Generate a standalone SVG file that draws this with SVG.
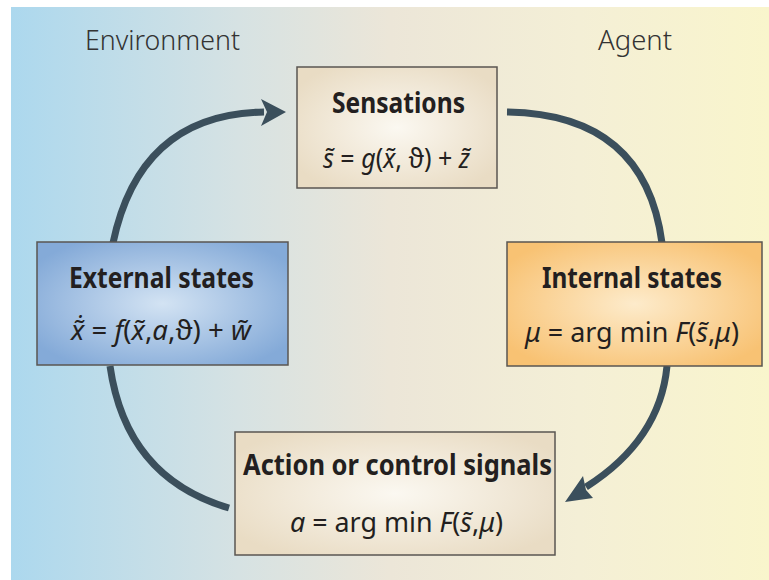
<svg xmlns="http://www.w3.org/2000/svg" width="769" height="580" viewBox="0 0 769 580">
<defs>
<linearGradient id="bg" x1="11" y1="0" x2="769" y2="0" gradientUnits="userSpaceOnUse">
<stop offset="0" stop-color="#acd8ee"/>
<stop offset="0.3" stop-color="#d6e2e3"/>
<stop offset="0.5" stop-color="#ece6d8"/>
<stop offset="0.75" stop-color="#f4efd6"/>
<stop offset="1" stop-color="#f9f5cc"/>
</linearGradient>
<radialGradient id="gBeige" cx="0.5" cy="0.5" r="0.6">
<stop offset="0" stop-color="#fbf8f1"/>
<stop offset="1" stop-color="#e9dcc4"/>
</radialGradient>
<radialGradient id="gBlue" cx="0.5" cy="0.5" r="0.6">
<stop offset="0" stop-color="#d3e3f3"/>
<stop offset="1" stop-color="#84aad8"/>
</radialGradient>
<radialGradient id="gOrange" cx="0.5" cy="0.5" r="0.6">
<stop offset="0" stop-color="#fdebcb"/>
<stop offset="1" stop-color="#f8c273"/>
</radialGradient>
</defs>
<style>
.box{stroke:#5a5652;stroke-width:1.5}
.lbl{font-family:"Noto Sans","Open Sans",sans-serif;fill:#333;font-size:27px;font-weight:300}
.ttl{font-family:"Noto Sans","Open Sans",sans-serif;fill:#231f20;font-size:28px;font-weight:bold}
.eq{font-family:"Noto Sans","Open Sans",sans-serif;fill:#231f20;font-size:27px}
.it{font-style:italic}
.arc{fill:none;stroke:#3b4f5c;stroke-width:7}
.head{fill:#3b4f5c}
</style>
<rect x="11" y="7" width="758" height="573" fill="url(#bg)"/>
<text class="lbl" x="85" y="50" textLength="155" lengthAdjust="spacingAndGlyphs">Environment</text>
<text class="lbl" x="598" y="50" textLength="74" lengthAdjust="spacingAndGlyphs">Agent</text>
<g id="connectors">
<path class="arc" d="M113,243 Q140,114 264,112"/>
<polygon class="head" points="261,99 286,112 261,126 267,112"/>
<path class="arc" d="M507,112 Q645,114 662,243"/>
<path class="arc" d="M667,366 Q660,440 586,487"/>
<polygon class="head" points="583,476 565,502 593,498 586,490"/>
<path class="arc" d="M110,366 Q126,478 229,508"/>
</g>
<g id="sensations">
<rect class="box" x="297" y="67" width="200" height="121" fill="url(#gBeige)"/>
<text class="ttl" x="332" y="113" textLength="133" lengthAdjust="spacingAndGlyphs">Sensations</text>
<text class="eq" x="323" y="168" textLength="147" lengthAdjust="spacingAndGlyphs"><tspan class="it">s̃</tspan> = <tspan class="it">g</tspan>(<tspan class="it">x̃</tspan>, ϑ) + <tspan class="it">z̃</tspan></text>
</g>
<g id="external">
<rect class="box" x="37" y="242" width="251" height="123" fill="url(#gBlue)"/>
<text class="ttl" x="69" y="288" textLength="185" lengthAdjust="spacingAndGlyphs">External states</text>
<text class="eq" x="71" y="340" textLength="180" lengthAdjust="spacingAndGlyphs"><tspan class="it">x̃̇</tspan> = <tspan class="it">f</tspan>(<tspan class="it">x̃</tspan>,<tspan class="it">a</tspan>,ϑ) + <tspan class="it">w̃</tspan></text>
</g>
<g id="internal">
<rect class="box" x="507" y="242" width="255" height="124" fill="url(#gOrange)"/>
<text class="ttl" x="542" y="288" textLength="180" lengthAdjust="spacingAndGlyphs">Internal states</text>
<text class="eq" x="525" y="342" textLength="214" lengthAdjust="spacingAndGlyphs"><tspan class="it">μ</tspan> = arg min <tspan class="it">F</tspan>(<tspan class="it">s̃</tspan>,<tspan class="it">μ</tspan>)</text>
</g>
<g id="action">
<rect class="box" x="235" y="432" width="320" height="123" fill="url(#gBeige)"/>
<text class="ttl" x="243" y="475" textLength="309" lengthAdjust="spacingAndGlyphs">Action or control signals</text>
<text class="eq" x="290" y="532" textLength="213" lengthAdjust="spacingAndGlyphs"><tspan class="it">a</tspan> = arg min <tspan class="it">F</tspan>(<tspan class="it">s̃</tspan>,<tspan class="it">μ</tspan>)</text>
</g>
</svg>
